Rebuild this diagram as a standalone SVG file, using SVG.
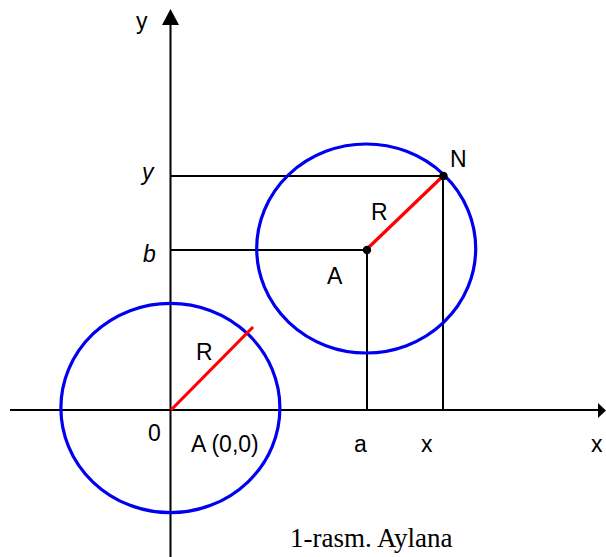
<svg xmlns="http://www.w3.org/2000/svg" width="606" height="557" viewBox="0 0 606 557">
<style>
.ax{stroke:#000;stroke-width:2;fill:none}
.ln{stroke:#000;stroke-width:2;fill:none}
.circ{stroke:#0000ee;stroke-width:3.2;fill:none}
.rad{stroke:#ff0000;stroke-width:3.2}
.t{font-family:"Liberation Sans",Arial,sans-serif;font-size:23px;fill:#000}
.ti{font-family:"Liberation Sans",Arial,sans-serif;font-size:23px;font-style:italic;fill:#000}
.cap{font-family:"Liberation Serif","Times New Roman",serif;font-size:27px;fill:#000}
</style>
<rect width="606" height="557" fill="#fff"/>
<g id="axes">
<line class="ax" x1="10" y1="410" x2="600" y2="410"/>
<polygon points="598,403 606,410.5 598,418" fill="#000"/>
<line class="ax" x1="170.5" y1="557" x2="170.5" y2="22"/>
<polygon points="162,25 170.5,9 179,25" fill="#000"/>
<text class="t" x="136" y="29">y</text>
<text class="t" x="591" y="452">x</text>
</g>
<g id="connectors">
<line class="ln" x1="170" y1="176" x2="443" y2="176"/>
<line class="ln" x1="170" y1="250" x2="367" y2="250"/>
<line class="ln" x1="367" y1="250" x2="367" y2="410"/>
<line class="ln" x1="443" y1="176" x2="443" y2="410"/>
</g>
<g id="circle-origin">
<ellipse class="circ" cx="170.4" cy="408" rx="109.5" ry="104.7"/>
<line class="rad" x1="171" y1="410" x2="253" y2="327"/>
<text class="t" x="196" y="360">R</text>
<text class="t" x="148" y="441">0</text>
<text class="t" x="191" y="452">A (0,0)</text>
</g>
<g id="circle-a">
<ellipse class="circ" cx="366.2" cy="248.5" rx="109.5" ry="104.5"/>
<line class="rad" x1="368" y1="248" x2="442" y2="177"/>
<circle cx="367" cy="250" r="4.2" fill="#000"/>
<circle cx="443.5" cy="176" r="4.2" fill="#000"/>
<text class="t" x="371" y="220">R</text>
<text class="t" x="327" y="284">A</text>
<text class="t" x="450" y="167">N</text>
</g>
<g id="labels">
<text class="ti" x="142" y="180">y</text>
<text class="ti" x="143" y="262">b</text>
<text class="t" x="354" y="452">a</text>
<text class="t" x="421" y="452">x</text>
<text class="cap" x="290" y="547">1-rasm. Aylana</text>
</g>
</svg>
